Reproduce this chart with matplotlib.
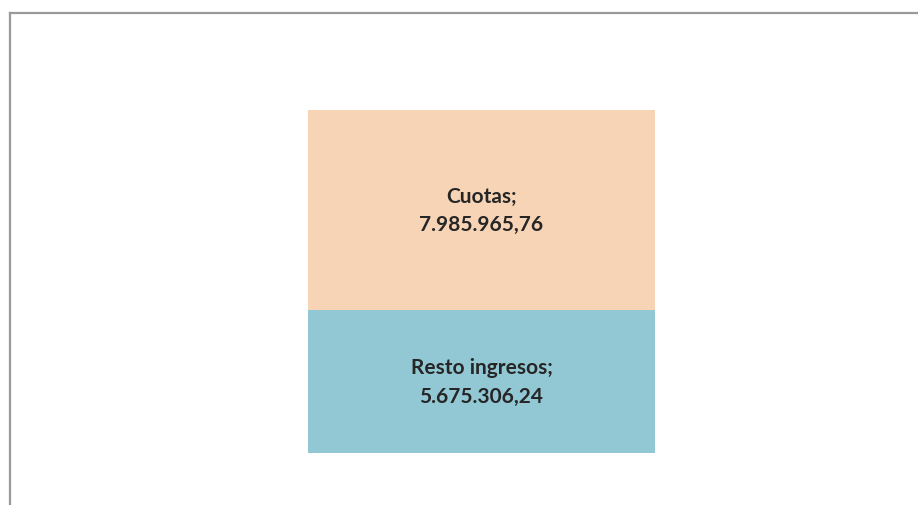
import matplotlib.pyplot as plt
from matplotlib.lines import Line2D

# datos
categorias = ["Resto ingresos", "Cuotas"]
valores = [5675306.24, 7985965.76]
etiquetas = ["Resto ingresos;\n5.675.306,24", "Cuotas;\n7.985.965,76"]
colores = ["#92C7D4", "#F8D4B6"]

W, H = 918, 506
fig = plt.figure(figsize=(W / 100, H / 100), dpi=100)

# marco del area del grafico (recortado)
fig.add_artist(Line2D([10 / W, 10 / W], [0, 1 - 14 / H], color="#9A9A9A", lw=1.6))
fig.add_artist(Line2D([10 / W, 1], [1 - 14 / H, 1 - 14 / H], color="#9A9A9A", lw=1.6))

# ejes que cubren la barra
ax = fig.add_axes([308 / W, 1 - 454 / H, (655 - 308) / W, (454 - 110.5) / H])
total = sum(valores)
base = 0
for v, et, c in zip(valores, etiquetas, colores):
    ax.bar(0, v, bottom=base, width=1.0, color=c)
    ax.text(0, base + v / 2, et, ha="center", va="center", fontsize=15,
            fontweight="bold", color="#262626", family="Lato", linespacing=1.55)
    base += v

ax.set_xlim(-0.5, 0.5)
ax.set_ylim(0, total)
ax.axis("off")

fig.savefig("out.png", dpi=100)
